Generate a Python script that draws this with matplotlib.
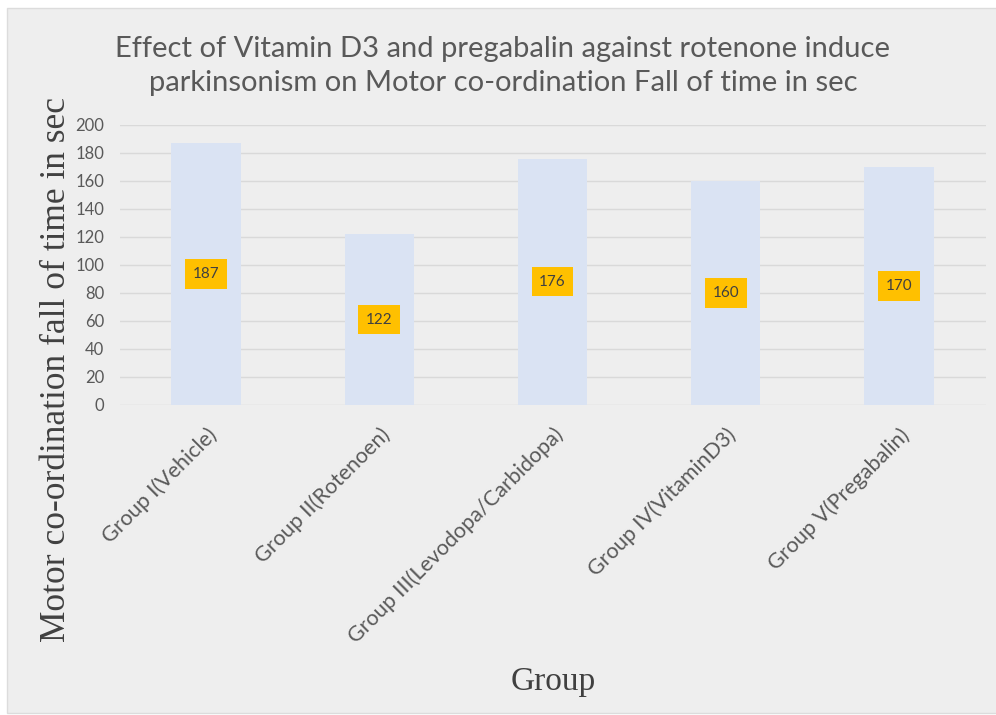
import matplotlib.pyplot as plt
from matplotlib.patches import Rectangle

# datos
grupos = ["Group I(Vehicle)", "Group II(Rotenoen)", "Group III(Levodopa/Carbidopa)",
          "Group IV(VitaminD3)", "Group V(Pregabalin)"]
valores = [187, 122, 176, 160, 170]
ticks_y = list(range(0, 201, 20))

titulo = "Effect of Vitamin D3 and pregabalin against rotenone induce\nparkinsonism on Motor co-ordination Fall of time in sec"

fig = plt.figure(figsize=(9.96, 7.15), dpi=100)
fig.patch.set_facecolor("white")
# area del grafico (gris claro con borde fino), detras de los ejes
fig.patches.append(Rectangle((7 / 996, 2 / 715), 1, 1 - 10 / 715, transform=fig.transFigure,
                             facecolor="#eeeeee", edgecolor="#dcdcdc", linewidth=1, zorder=-10))

ax = fig.add_axes([0.12, 0.4336, 0.8695, 0.3916])
ax.set_facecolor("#eeeeee")

x = list(range(len(grupos)))
ax.bar(x, valores, width=0.4, color="#dae3f3", zorder=2)

# etiquetas en el centro de cada barra
for xi, v in zip(x, valores):
    ax.text(xi, v / 2, str(v), ha="center", va="center", fontsize=11, color="#404040",
            family="Lato",
            bbox=dict(boxstyle="square,pad=0.5", facecolor="#ffc000", edgecolor="none"),
            zorder=3)

ax.set_xlim(-0.5, 4.5)
ax.set_ylim(0, 200)
ax.set_yticks(ticks_y)
ax.yaxis.grid(True, color="#d9d9d9", linewidth=1, zorder=0)
for s in ax.spines.values():
    s.set_visible(False)
ax.tick_params(axis="y", length=0, colors="#595959", labelsize=12, pad=11)
ax.tick_params(axis="x", length=0, colors="#595959", labelsize=15.5, pad=14)
ax.set_xticks(x)
ax.set_xticklabels(grupos, rotation=45, ha="right", rotation_mode="anchor", family="Lato")
for t in ax.get_yticklabels():
    t.set_family("Lato")

ax.set_ylabel("Motor co-ordination fall of time in sec", family="Liberation Serif",
              fontsize=25.5, color="#404040")
ax.yaxis.set_label_coords(-0.054, 0.125)

fig.text(0.555, 1 - 682 / 715, "Group", ha="center", va="center", family="Liberation Serif",
         fontsize=24, color="#404040")

fig.text(0.505, 1 - 66 / 715, titulo, ha="center", va="center", fontsize=21, color="#595959",
         family="Lato", linespacing=1.35)

fig.savefig("out.png", dpi=100, facecolor=fig.get_facecolor())
